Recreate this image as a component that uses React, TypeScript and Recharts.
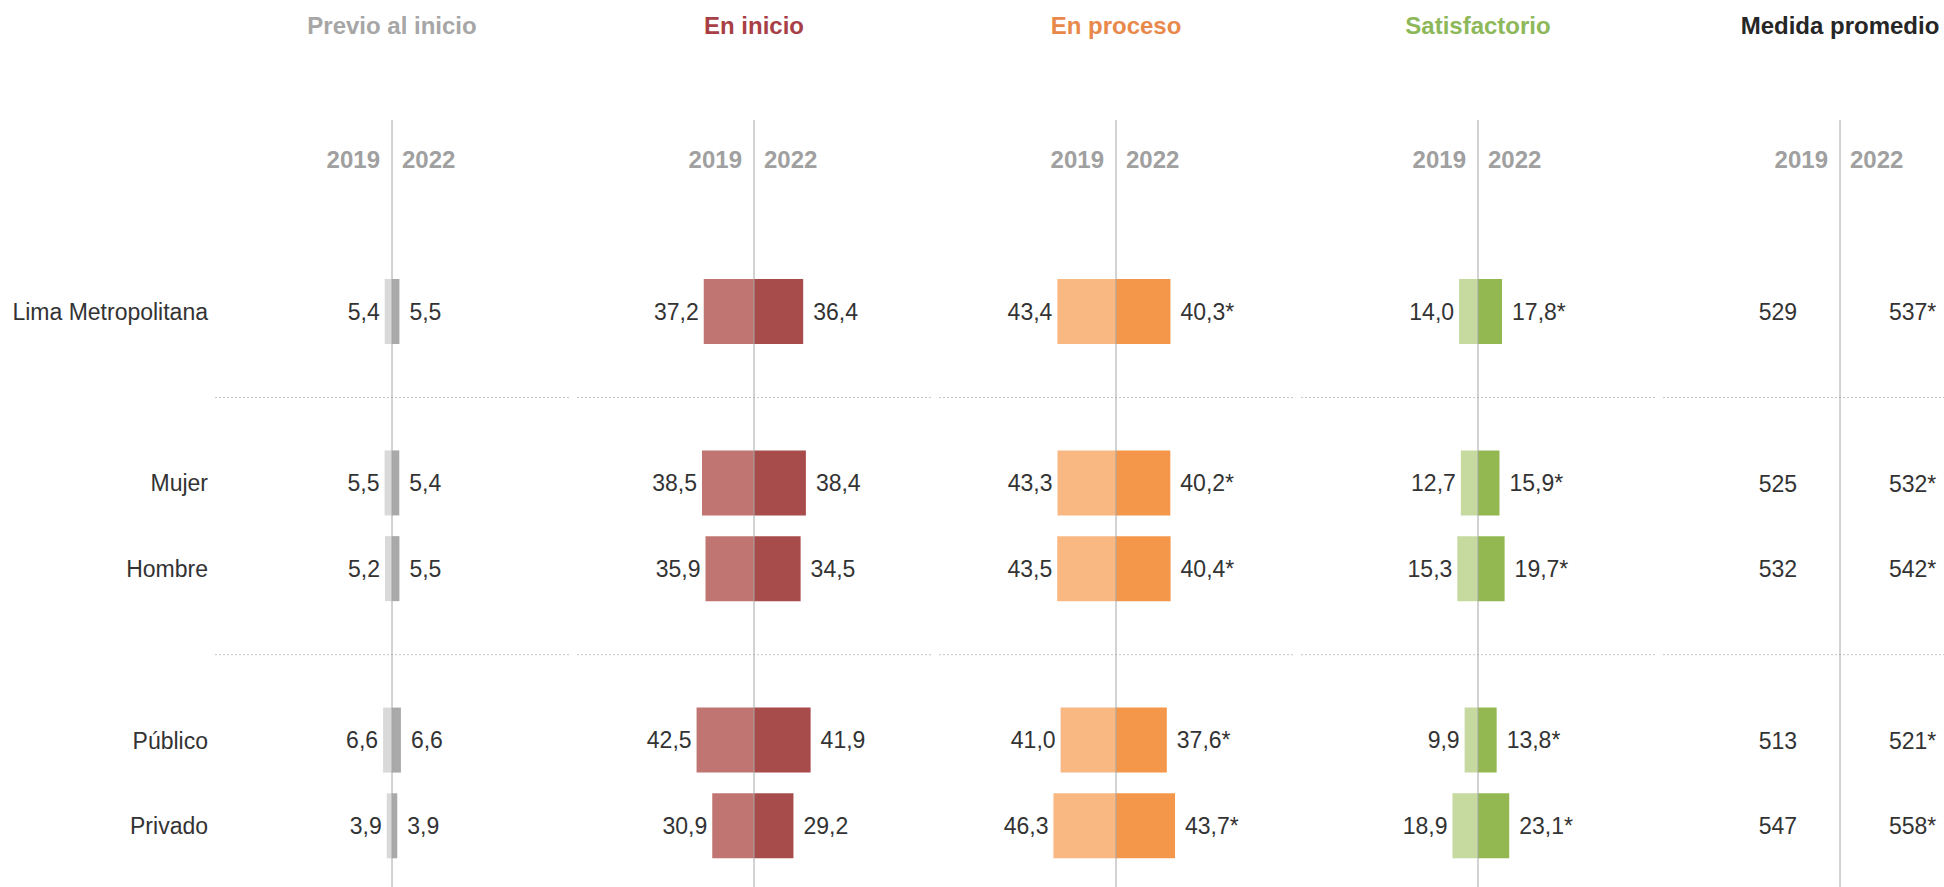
import { BarChart, Bar, XAxis, YAxis, ReferenceLine, LabelList } from "recharts";

// ===== data =====
const CATEGORIES = ["Lima Metropolitana", "Mujer", "Hombre", "Público", "Privado"];
const SLOTS = ["Lima Metropolitana", "sep1", "Mujer", "Hombre", "sep2", "Público", "Privado"];
const SEPARATORS = ["sep1", "sep2"];
const YEARS = ["2019", "2022"];

const PREVIO_2019 = [5.4, 5.5, 5.2, 6.6, 3.9];
const PREVIO_2022 = [5.5, 5.4, 5.5, 6.6, 3.9];
const PREVIO_SIG = [false, false, false, false, false];

const INICIO_2019 = [37.2, 38.5, 35.9, 42.5, 30.9];
const INICIO_2022 = [36.4, 38.4, 34.5, 41.9, 29.2];
const INICIO_SIG = [false, false, false, false, false];

const PROCESO_2019 = [43.4, 43.3, 43.5, 41.0, 46.3];
const PROCESO_2022 = [40.3, 40.2, 40.4, 37.6, 43.7];
const PROCESO_SIG = [true, true, true, true, true];

const SATIS_2019 = [14.0, 12.7, 15.3, 9.9, 18.9];
const SATIS_2022 = [17.8, 15.9, 19.7, 13.8, 23.1];
const SATIS_SIG = [true, true, true, true, true];

const MEDIDA_2019 = [529, 525, 532, 513, 547];
const MEDIDA_2022 = [537, 532, 542, 521, 558];
const MEDIDA_SIG = [true, true, true, true, true];

// ===== layout =====
const PANEL_W = 362;
const PAD = 4;
const CAT_W = 211;
const H = 887;
const TOP = 120;
const PAD_TOP = 149;
const PAD_BOTTOM = 18;
const DOMAIN: [number, number] = [-131, 131];
const TEXT = "#333333";
const AXIS = "#a6a6a6";
const DOTS = "#c4c4c4";
const FONT = 23;

const PANELS = [
  { title: "Previo al inicio", color: "#a6a6a6", light: "#d9d9d9", dark: "#a9a9a9", v19: PREVIO_2019, v22: PREVIO_2022, sig: PREVIO_SIG },
  { title: "En inicio", color: "#a83f46", light: "#c07572", dark: "#a84b4b", v19: INICIO_2019, v22: INICIO_2022, sig: INICIO_SIG },
  { title: "En proceso", color: "#e8894b", light: "#f9b882", dark: "#f4974a", v19: PROCESO_2019, v22: PROCESO_2022, sig: PROCESO_SIG },
  { title: "Satisfactorio", color: "#8db85a", light: "#c6da9f", dark: "#93b851", v19: SATIS_2019, v22: SATIS_2022, sig: SATIS_SIG },
];

const fmt = (v: number) => v.toFixed(1).replace(".", ",");

const buildRows = (v19: number[], v22: number[], sig: boolean[]) =>
  SLOTS.map((name) => {
    const i = CATEGORIES.indexOf(name);
    if (i < 0) return { name };
    return {
      name,
      a: -v19[i],
      b: v22[i],
      la: fmt(v19[i]),
      lb: fmt(v22[i]) + (sig[i] ? "*" : ""),
    };
  });

const medidaRows = SLOTS.map((name) => {
  const i = CATEGORIES.indexOf(name);
  if (i < 0) return { name };
  return {
    name,
    v19: MEDIDA_2019[i],
    v22: MEDIDA_2022[i],
    m19: String(MEDIDA_2019[i]),
    m22: String(MEDIDA_2022[i]) + (MEDIDA_SIG[i] ? "*" : ""),
  };
});

// titulo + años encima de la línea central
function Header({ viewBox, title, color }: any) {
  const x = viewBox?.x ?? 0;
  const y = viewBox?.y ?? 0;
  return (
    <g fontWeight="bold" fontSize={24}>
      <text x={x} y={y - 95} textAnchor="middle" dominantBaseline="central" fill={color}>
        {title}
      </text>
      <text x={x - 12} y={y + 39} textAnchor="end" dominantBaseline="central" fill="#a0a0a0">
        {YEARS[0]}
      </text>
      <text x={x + 10} y={y + 39} textAnchor="start" dominantBaseline="central" fill="#a0a0a0">
        {YEARS[1]}
      </text>
    </g>
  );
}

const yAxisBase = {
  type: "category" as const,
  dataKey: "name",
  padding: { top: PAD_TOP, bottom: PAD_BOTTOM },
  axisLine: false,
  tickLine: false,
  tickSize: 0,
  interval: 0 as const,
};

function Panel({ panel, first }: { panel: (typeof PANELS)[number]; first: boolean }) {
  const rows = buildRows(panel.v19, panel.v22, panel.sig);

  return (
    <BarChart
      width={first ? PANEL_W + CAT_W : PANEL_W}
      height={H}
      data={rows}
      layout="vertical"
      stackOffset="sign"
      barSize={65}
      margin={{ top: TOP, right: PAD, bottom: 0, left: first ? 0 : PAD }}
    >
      <XAxis type="number" domain={DOMAIN} hide />
      <YAxis
        {...yAxisBase}
        hide={!first}
        width={first ? CAT_W + PAD : 0}
        tickMargin={7}
        tick={{ fill: TEXT, fontSize: FONT }}
        tickFormatter={(n: string) => (SEPARATORS.includes(n) ? "" : n)}
      />
      {SEPARATORS.map((s) => (
        <ReferenceLine key={s} y={s} stroke={DOTS} strokeDasharray="2 2" />
      ))}
      {/* barra negativa: "right" cae en su extremo izquierdo */}
      <Bar dataKey="a" stackId="s" fill={panel.light} isAnimationActive={false}>
        <LabelList dataKey="la" position="right" offset={5} fill={TEXT} fontSize={FONT} />
      </Bar>
      <Bar dataKey="b" stackId="s" fill={panel.dark} isAnimationActive={false}>
        <LabelList dataKey="lb" position="right" offset={10} fill={TEXT} fontSize={FONT} />
      </Bar>
      <ReferenceLine x={0} stroke={AXIS} label={<Header title={panel.title} color={panel.color} />} />
    </BarChart>
  );
}

// medida promedio: barras invisibles que arrancan en la línea central,
// solo se ven sus etiquetas
function MedidaPanel() {
  return (
    <BarChart
      width={PANEL_W}
      height={H}
      data={medidaRows}
      layout="vertical"
      barSize={20}
      margin={{ top: TOP, right: PAD, bottom: 0, left: PAD }}
    >
      <XAxis type="number" domain={DOMAIN} allowDataOverflow hide />
      <YAxis {...yAxisBase} yAxisId="s19" hide />
      <YAxis {...yAxisBase} yAxisId="s22" hide />
      <Bar dataKey="v19" yAxisId="s19" fill="transparent" isAnimationActive={false}>
        <LabelList dataKey="m19" position="left" offset={43} fill={TEXT} fontSize={FONT} />
      </Bar>
      <Bar dataKey="v22" yAxisId="s22" fill="transparent" isAnimationActive={false}>
        <LabelList dataKey="m22" position="insideLeft" offset={49} fill={TEXT} fontSize={FONT} />
      </Bar>
      {SEPARATORS.map((s) => (
        <ReferenceLine key={s} y={s} yAxisId="s19" stroke={DOTS} strokeDasharray="2 2" />
      ))}
      <ReferenceLine
        x={0}
        yAxisId="s19"
        stroke={AXIS}
        label={<Header title="Medida promedio" color="#262626" />}
      />
    </BarChart>
  );
}

export default function App() {
  return (
    <div
      style={{
        position: "absolute",
        left: 0,
        top: 0,
        width: 1944,
        height: H,
        overflow: "hidden",
        display: "flex",
        background: "#ffffff",
        fontFamily: "'Liberation Sans', Arial, sans-serif",
      }}
    >
      {PANELS.map((p, i) => (
        <div key={p.title} style={{ flexShrink: 0 }}>
          <Panel panel={p} first={i === 0} />
        </div>
      ))}
      <div style={{ flexShrink: 0 }}>
        <MedidaPanel />
      </div>
    </div>
  );
}
